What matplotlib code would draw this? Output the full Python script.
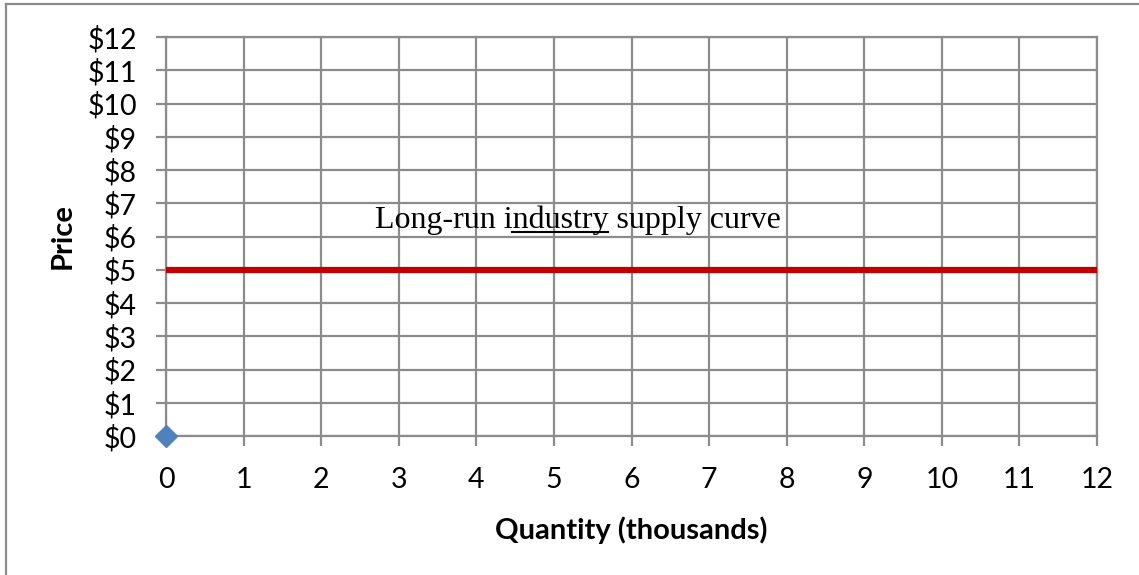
import numpy as np
import matplotlib.pyplot as plt
from matplotlib.lines import Line2D

# long-run supply: flat at the minimum average cost
quantity = [0, 12]
price = [5, 5]
origin_q = [0]
origin_p = [0]

x_ticks = np.arange(0, 13)
y_ticks = np.arange(0, 13)
y_labels = ['$' + str(v) for v in y_ticks]

plt.rcParams['font.family'] = ['Lato', 'DejaVu Sans']

fig = plt.figure(figsize=(11.39, 5.75), dpi=100)
ax = fig.add_axes([166/1139, 1 - 436/575, (1097-166)/1139, (436-37)/575])

grid_c = '#8c8c8c'
ax.set_xlim(0, 12)
ax.set_ylim(0, 12)
ax.set_xticks(x_ticks)
ax.set_yticks(y_ticks)
ax.set_yticklabels(y_labels)
ax.grid(True, color=grid_c, linewidth=1.6)
ax.set_axisbelow(True)
for s in ax.spines.values():
    s.set_color(grid_c)
    s.set_linewidth(1.6)
ax.tick_params(axis='both', length=7, width=1.6, color=grid_c, labelsize=20.5)
ax.tick_params(axis='y', pad=14)
ax.tick_params(axis='x', pad=15)

ax.plot(quantity, price, color='#C00000', linewidth=4.5, solid_capstyle='butt', clip_on=False, zorder=3)
ax.plot(origin_q, origin_p, marker='D', color='#4F81BD', markersize=11, linestyle='none', clip_on=False, zorder=4)

ax.set_xlabel('Quantity (thousands)', fontsize=21, fontweight='bold', labelpad=17)
ax.set_ylabel('Price', fontsize=21, fontweight='bold', labelpad=8)

# annotation with "industry" underlined
label = 'Long-run industry supply curve'
tx, ty = 2.69, 6.25
serif = 'Liberation Serif'
fs = 23
t = ax.text(tx, ty, label, family=serif, fontsize=fs, va='baseline', ha='left')
r = fig.canvas.get_renderer()
a = ax.text(tx, ty, 'Long-run i', family=serif, fontsize=fs, va='baseline', ha='left')
b = ax.text(tx, ty, 'Long-run industry', family=serif, fontsize=fs, va='baseline', ha='left')
x0 = a.get_window_extent(r).x1
x1 = b.get_window_extent(r).x1
a.remove()
b.remove()
base = ax.transData.transform((tx, ty))[1]
uy = (base - 4) / fig.bbox.height
fig.add_artist(Line2D([x0 / fig.bbox.width, x1 / fig.bbox.width], [uy, uy],
                      color='black', linewidth=1.5))

# chart frame (top and left edges show)
fig.add_artist(Line2D([6/1139, 6/1139], [0, 1 - 4/575], color='#8c8c8c', linewidth=1.6))
fig.add_artist(Line2D([6/1139, 1], [1 - 4/575, 1 - 4/575], color='#8c8c8c', linewidth=1.6))

fig.savefig('out.png', dpi=100)
